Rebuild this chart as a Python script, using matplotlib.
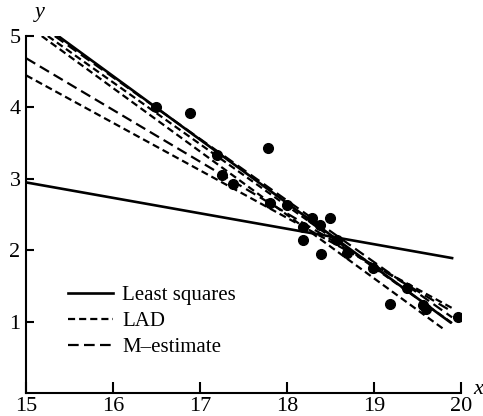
import matplotlib.pyplot as plt

# observed points
x_obs = [16.50, 16.88, 17.20, 17.25, 17.38, 17.78, 17.80, 18.00, 18.19, 18.19,
         18.29, 18.38, 18.39, 18.49, 18.58, 18.69, 18.99, 19.19, 19.38, 19.57,
         19.60, 19.97]
y_obs = [4.00, 3.92, 3.33, 3.05, 2.93, 3.43, 2.66, 2.63, 2.32, 2.14,
         2.45, 2.35, 1.95, 2.45, 2.14, 1.96, 1.75, 1.25, 1.47, 1.23,
         1.17, 1.06]

# fitted lines: (x_start, y_start, x_end, y_end)
ls_lines = [(15.0, 2.95, 19.90, 1.89),
            (15.37, 5.00, 19.88, 0.99)]
lad_lines = [(15.18, 5.00, 19.82, 0.88),
             (15.25, 5.00, 19.90, 0.98),
             (15.0, 4.45, 19.90, 1.19)]
m_lines = [(15.33, 5.00, 19.90, 1.06),
           (15.0, 4.69, 19.90, 1.14)]

fig = plt.figure(figsize=(4.83, 4.16), dpi=100)
ax = fig.add_axes([0.054, 0.0553, 0.9, 0.858])
plt.rcParams["font.family"] = ["Liberation Serif", "DejaVu Serif"]

for i, (x0, y0, x1, y1) in enumerate(ls_lines):
    ax.plot([x0, x1], [y0, y1], color="black", lw=1.9,
            label="Least squares" if i == 0 else None)
for i, (x0, y0, x1, y1) in enumerate(lad_lines):
    ax.plot([x0, x1], [y0, y1], color="black", lw=1.6, dashes=(3.2, 1.8),
            label="LAD" if i == 0 else None)
for i, (x0, y0, x1, y1) in enumerate(m_lines):
    ax.plot([x0, x1], [y0, y1], color="black", lw=1.6, dashes=(4.8, 2.4),
            label="M\u2013estimate" if i == 0 else None)

ax.plot(x_obs, y_obs, "o", color="black", ms=7, zorder=5)

ax.set_xlim(15, 20)
ax.set_ylim(0, 5)
ax.set_xticks([15, 16, 17, 18, 19, 20])
ax.set_yticks([1, 2, 3, 4, 5])
for s in ["top", "right"]:
    ax.spines[s].set_visible(False)
for s in ["left", "bottom"]:
    ax.spines[s].set_linewidth(1.5)
ax.tick_params(direction="in", length=6, width=1.5, labelsize=16, pad=4)
ax.tick_params(axis="x", length=8, pad=3)
for lab in ax.get_xticklabels() + ax.get_yticklabels():
    lab.set_family("Liberation Serif")

fig.text(40 / 483, 1 - 12 / 416, "y", fontsize=16, style="italic",
         family="Liberation Serif", ha="center", va="center")
fig.text(478 / 483, 1 - 390 / 416, "x", fontsize=16, style="italic",
         family="Liberation Serif", ha="center", va="center")

leg = ax.legend(loc="lower left", bbox_to_anchor=(0.078, 0.078), frameon=False,
                prop={"family": "Liberation Serif", "size": 15},
                handlelength=2.15, handletextpad=0.45, labelspacing=0.3,
                borderaxespad=0)

fig.savefig("out.png", dpi=100)
